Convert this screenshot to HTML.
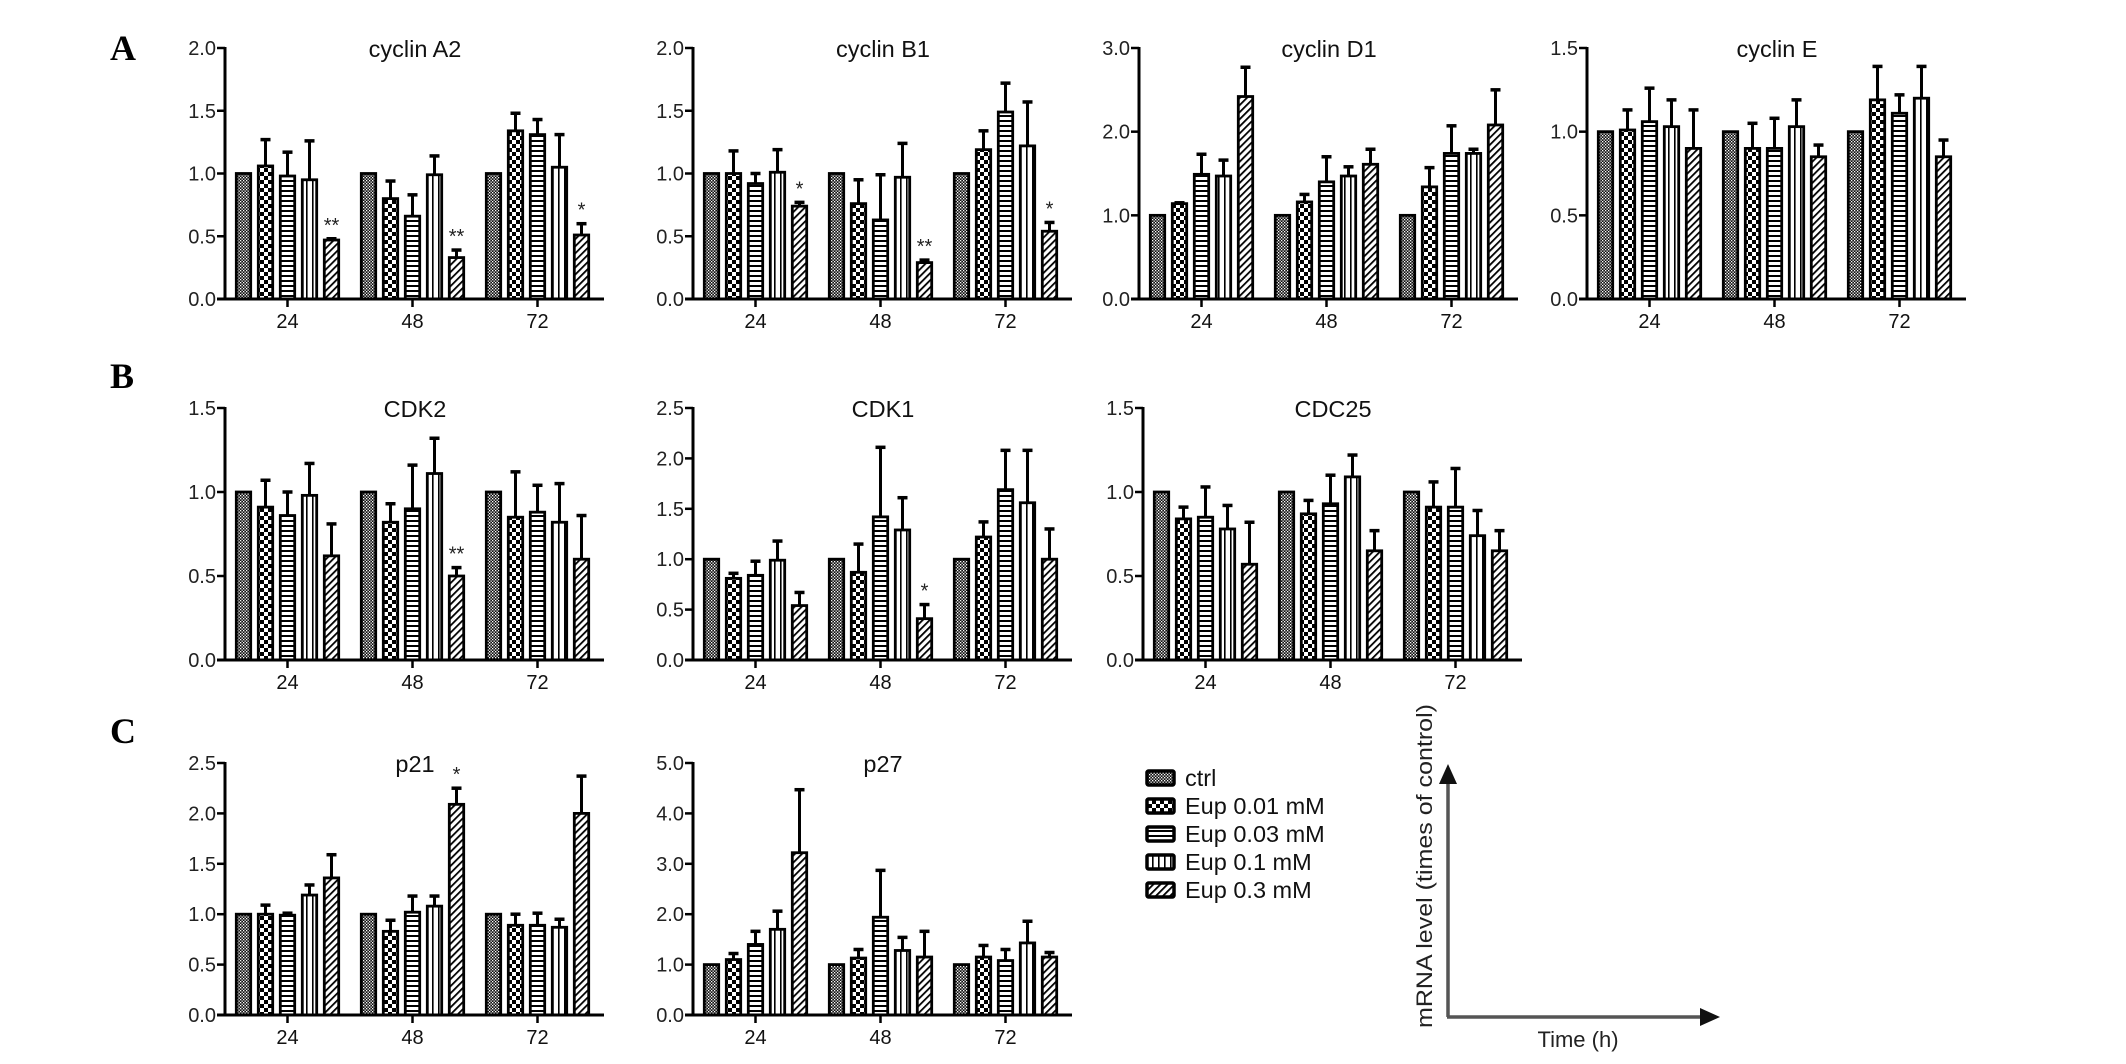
<!DOCTYPE html>
<html><head><meta charset="utf-8"><style>
html,body{margin:0;padding:0;background:#fff;}
svg{display:block;font-family:"Liberation Sans",Arial,sans-serif;}
</style></head><body>
<svg id="fig" width="2126" height="1064" viewBox="0 0 2126 1064" xmlns="http://www.w3.org/2000/svg">
<defs>
<pattern id="pat0" patternUnits="userSpaceOnUse" width="3" height="3"><rect width="3" height="3" fill="#111"/><rect x="0" y="0" width="1.3" height="1.3" fill="#fff"/><rect x="1.5" y="1.5" width="1.3" height="1.3" fill="#fff"/></pattern>
<pattern id="pat1" patternUnits="userSpaceOnUse" width="8" height="8"><rect width="8" height="8" fill="#fff"/><rect x="0" y="0" width="4" height="4" fill="#000"/><rect x="4" y="4" width="4" height="4" fill="#000"/></pattern>
<pattern id="pat2" patternUnits="userSpaceOnUse" width="5" height="5"><rect width="5" height="5" fill="#fff"/><rect x="0" y="0" width="5" height="2" fill="#000"/></pattern>
<pattern id="pat3" patternUnits="userSpaceOnUse" width="6" height="6"><rect width="6" height="6" fill="#fff"/><rect x="0" y="0" width="1.6" height="6" fill="#000"/></pattern>
<pattern id="pat4" patternUnits="userSpaceOnUse" width="5" height="5" patternTransform="rotate(45)"><rect width="5" height="5" fill="#fff"/><rect x="0" y="0" width="1.8" height="5" fill="#000"/></pattern>
</defs>
<g id="root"></g>
</svg>
<script>
// ---- data (categories, means, error-bar tops) ----
const timeLabels = ["24","48","72"];
const seriesNames = ["ctrl","Eup 0.01 mM","Eup 0.03 mM","Eup 0.1 mM","Eup 0.3 mM"];

const cyclinA2Mean = [[1,1.06,0.98,0.95,0.47],[1,0.80,0.66,0.99,0.33],[1,1.34,1.31,1.05,0.51]];
const cyclinA2Top  = [[1,1.27,1.17,1.26,0.48],[1,0.94,0.83,1.14,0.39],[1,1.48,1.43,1.31,0.60]];
const cyclinA2Sig  = [["","","","","**"],["","","","","**"],["","","","","*"]];

const cyclinB1Mean = [[1,1.00,0.92,1.01,0.74],[1,0.76,0.63,0.97,0.29],[1,1.19,1.49,1.22,0.54]];
const cyclinB1Top  = [[1,1.18,1.00,1.19,0.77],[1,0.95,0.99,1.24,0.31],[1,1.34,1.72,1.57,0.61]];
const cyclinB1Sig  = [["","","","","*"],["","","","","**"],["","","","","*"]];

const cyclinD1Mean = [[1,1.14,1.49,1.47,2.42],[1,1.16,1.40,1.47,1.61],[1,1.34,1.74,1.74,2.08]];
const cyclinD1Top  = [[1,1.15,1.73,1.66,2.77],[1,1.25,1.70,1.58,1.79],[1,1.57,2.07,1.79,2.50]];

const cyclinEMean = [[1,1.01,1.06,1.03,0.90],[1,0.90,0.90,1.03,0.85],[1,1.19,1.11,1.20,0.85]];
const cyclinETop  = [[1,1.13,1.26,1.19,1.13],[1,1.05,1.08,1.19,0.92],[1,1.39,1.22,1.39,0.95]];

const cdk2Mean = [[1,0.91,0.86,0.98,0.62],[1,0.82,0.90,1.11,0.50],[1,0.85,0.88,0.82,0.60]];
const cdk2Top  = [[1,1.07,1.00,1.17,0.81],[1,0.93,1.16,1.32,0.55],[1,1.12,1.04,1.05,0.86]];
const cdk2Sig  = [["","","","",""],["","","","","**"],["","","","",""]];

const cdk1Mean = [[1,0.81,0.84,0.99,0.54],[1,0.87,1.42,1.29,0.41],[1,1.22,1.69,1.56,1.00]];
const cdk1Top  = [[1,0.86,0.98,1.18,0.67],[1,1.15,2.11,1.61,0.55],[1,1.37,2.08,2.08,1.30]];
const cdk1Sig  = [["","","","",""],["","","","","*"],["","","","",""]];

const cdc25Mean = [[1,0.84,0.85,0.78,0.57],[1,0.87,0.93,1.09,0.65],[1,0.91,0.91,0.74,0.65]];
const cdc25Top  = [[1,0.91,1.03,0.92,0.82],[1,0.95,1.10,1.22,0.77],[1,1.06,1.14,0.89,0.77]];

const p21Mean = [[1,1.00,0.99,1.19,1.36],[1,0.83,1.02,1.08,2.09],[1,0.89,0.89,0.87,2.00]];
const p21Top  = [[1,1.09,1.01,1.29,1.59],[1,0.94,1.18,1.18,2.25],[1,1.00,1.01,0.95,2.37]];
const p21Sig  = [["","","","",""],["","","","","*"],["","","","",""]];

const p27Mean = [[1,1.10,1.40,1.70,3.22],[1,1.13,1.94,1.28,1.15],[1,1.15,1.08,1.43,1.15]];
const p27Top  = [[1,1.22,1.66,2.06,4.47],[1,1.30,2.87,1.54,1.66],[1,1.38,1.30,1.86,1.24]];

const ticks20 = [0,0.5,1.0,1.5,2.0];
const ticks30 = [0,1.0,2.0,3.0];
const ticks15 = [0,0.5,1.0,1.5];
const ticks25 = [0,0.5,1.0,1.5,2.0,2.5];
const ticks50 = [0,1.0,2.0,3.0,4.0,5.0];

// ---- layout ----
const NS = "http://www.w3.org/2000/svg";
const root = document.getElementById('root');
function mk(tag, attrs, parent){const e=document.createElementNS(NS,tag);for(const k in attrs)e.setAttribute(k,attrs[k]);(parent||root).appendChild(e);return e;}

const panels = [
 {name:"cyclin-a2",title:"cyclin A2",ax:225,y0:299,yTop:48,max:2.0,ticks:ticks20,mean:cyclinA2Mean,top:cyclinA2Top,sig:cyclinA2Sig},
 {name:"cyclin-b1",title:"cyclin B1",ax:693,y0:299,yTop:48,max:2.0,ticks:ticks20,mean:cyclinB1Mean,top:cyclinB1Top,sig:cyclinB1Sig},
 {name:"cyclin-d1",title:"cyclin D1",ax:1139,y0:299,yTop:48,max:3.0,ticks:ticks30,mean:cyclinD1Mean,top:cyclinD1Top},
 {name:"cyclin-e",title:"cyclin E",ax:1587,y0:299,yTop:48,max:1.5,ticks:ticks15,mean:cyclinEMean,top:cyclinETop},
 {name:"cdk2",title:"CDK2",ax:225,y0:660,yTop:408,max:1.5,ticks:ticks15,mean:cdk2Mean,top:cdk2Top,sig:cdk2Sig},
 {name:"cdk1",title:"CDK1",ax:693,y0:660,yTop:408,max:2.5,ticks:ticks25,mean:cdk1Mean,top:cdk1Top,sig:cdk1Sig},
 {name:"cdc25",title:"CDC25",ax:1143,y0:660,yTop:408,max:1.5,ticks:ticks15,mean:cdc25Mean,top:cdc25Top},
 {name:"p21",title:"p21",ax:225,y0:1015,yTop:763,max:2.5,ticks:ticks25,mean:p21Mean,top:p21Top,sig:p21Sig},
 {name:"p27",title:"p27",ax:693,y0:1015,yTop:763,max:5.0,ticks:ticks50,mean:p27Mean,top:p27Top}
];

panels.forEach(p=>{
  const g = mk('g',{});
  
  
  const yS = v => p.y0 - (v/p.max)*(p.y0-p.yTop);
  const gx = i => p.ax + 62.5 + i*125;
  const xEnd = p.ax + 379;
  const t = mk('text',{x:p.ax+190,y:p.yTop+9,'font-size':23.5,'text-anchor':'middle',fill:'#111'},g);
  t.textContent = p.title;
  
  
  p.mean.forEach((grp,i)=>{
    grp.forEach((v,j)=>{
      const cx = gx(i) + (j-2)*22;
      const top = p.top[i][j];
      if (top > v + 0.005){
        const el = mk('line',{x1:cx,x2:cx,y1:yS(v),y2:yS(top),stroke:'#000','stroke-width':3},g);
        
        
        const cap = mk('line',{x1:cx-5,x2:cx+5,y1:yS(top),y2:yS(top),stroke:'#000','stroke-width':3.5},g);
        
        
      }
      const r = mk('rect',{x:cx-7.2,y:yS(v),width:14.4,height:p.y0-yS(v),fill:'url(#pat'+j+')',stroke:'#000','stroke-width':2.8},g);
      
      
      if (p.sig && p.sig[i][j]){
        const s = mk('text',{x:cx,y:yS(Math.max(top,v))-7,'font-size':20,'text-anchor':'middle',fill:'#222'},g);
        s.textContent = p.sig[i][j];
        
        
      }
    });
    const xt = mk('line',{x1:gx(i),x2:gx(i),y1:p.y0,y2:p.y0+8,stroke:'#000','stroke-width':2.5},g);
    
    
    const xl = mk('text',{x:gx(i),y:p.y0+29,'font-size':20,'text-anchor':'middle',fill:'#111'},g);
    xl.textContent = timeLabels[i];
    
    
  });
  const ya = mk('line',{x1:p.ax,x2:p.ax,y1:p.yTop-1,y2:p.y0+1.5,stroke:'#000','stroke-width':3},g);
  
  
  const xa = mk('line',{x1:p.ax-8,x2:xEnd,y1:p.y0,y2:p.y0,stroke:'#000','stroke-width':3},g);
  
  
  p.ticks.forEach(tv=>{
    const tk = mk('line',{x1:p.ax-8,x2:p.ax,y1:yS(tv),y2:yS(tv),stroke:'#000','stroke-width':2.5},g);
    
    
    const tl = mk('text',{x:p.ax-9,y:yS(tv)+7,'font-size':20,'text-anchor':'end',fill:'#222'},g);
    tl.textContent = tv.toFixed(1);
    
    
  });
});

[["A",60],["B",388],["C",743]].forEach(([L,y])=>{
  const t = mk('text',{x:110,y:y,'font-size':36,'font-weight':'bold','font-family':'Liberation Serif, serif',fill:'#000'});
  t.textContent = L;
  
  
});

const lg = mk('g',{});


seriesNames.forEach((n,j)=>{
  const cy = 778 + j*28;
  const sw = mk('rect',{x:1147,y:cy-7,width:27,height:14,fill:'url(#pat'+j+')',stroke:'#000','stroke-width':3.5,rx:1.5},lg);
  
  
  const tx = mk('text',{x:1185,y:cy+8,'font-size':23.5,fill:'#111'},lg);
  tx.textContent = n;
  
  
});

const sg = mk('g',{});


mk('line',{x1:1448,x2:1448,y1:1017,y2:780,stroke:'#555','stroke-width':3.5},sg);
mk('polygon',{points:'1439,784 1457,784 1448,764',fill:'#111'},sg);
mk('line',{x1:1447,x2:1704,y1:1017,y2:1017,stroke:'#555','stroke-width':3.5},sg);
mk('polygon',{points:'1700,1008 1700,1026 1720,1017',fill:'#111'},sg);
const yl = mk('text',{x:0,y:0,'font-size':22,'text-anchor':'middle',fill:'#222',transform:'translate(1432,866) rotate(-90)',textLength:324,lengthAdjust:'spacingAndGlyphs'},sg);
yl.textContent = 'mRNA level (times of control)';


const xl = mk('text',{x:1578,y:1047,'font-size':22,'text-anchor':'middle',fill:'#222'},sg);
xl.textContent = 'Time (h)';


</script>
</body></html>
